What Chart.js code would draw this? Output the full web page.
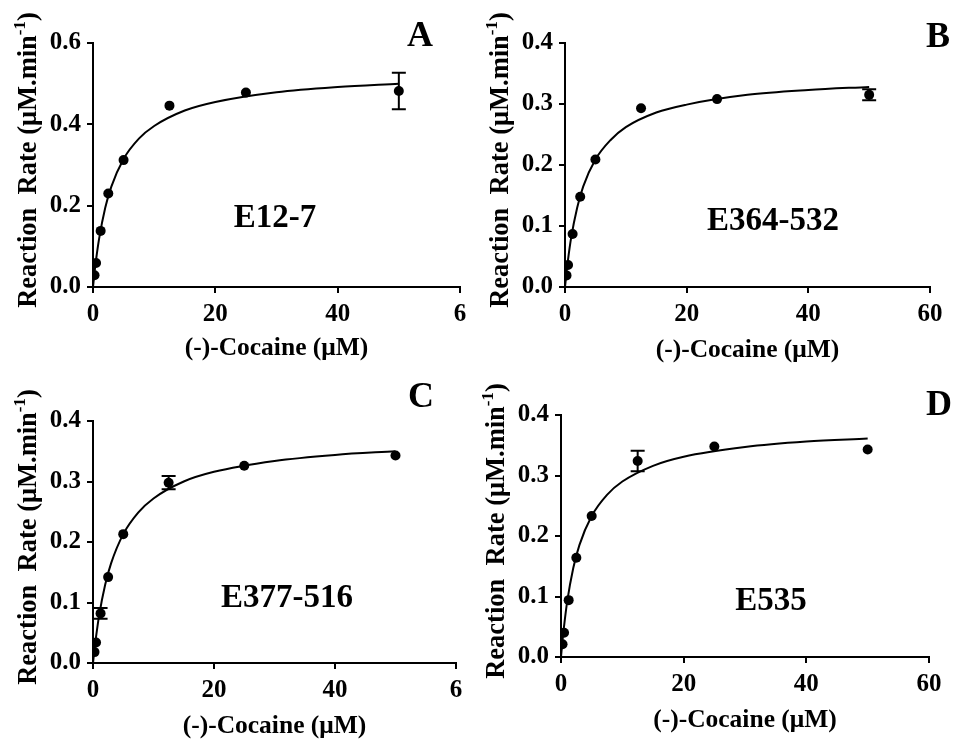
<!DOCTYPE html>
<html>
<head>
<meta charset="utf-8">
<script src="https://cdn.jsdelivr.net/npm/chart.js@4.4.1/dist/chart.umd.min.js"></script>
<style>
  html, body { margin: 0; padding: 0; background: #fff; }
  #fig { position: relative; width: 957px; height: 739px; overflow: hidden; }
  .panel { position: absolute; }
  .panel canvas { display: block; }
</style>
</head>
<body>
<div id="fig">
  <div class="panel" style="left:0;top:0"><canvas id="chartA" width="478" height="370"></canvas></div>
  <div class="panel" style="left:478px;top:0"><canvas id="chartB" width="479" height="370"></canvas></div>
  <div class="panel" style="left:0;top:370px"><canvas id="chartC" width="478" height="369"></canvas></div>
  <div class="panel" style="left:478px;top:370px"><canvas id="chartD" width="479" height="369"></canvas></div>
</div>
<script>
// (-)-cocaine concentrations, uM
var cocaine = [0.25, 0.5, 1.25, 2.5, 5, 12.5, 25, 50];

// measured rates (uM/min) and error bars
var rateA = [0.029, 0.059, 0.138, 0.230, 0.312, 0.446, 0.478, 0.482];
var errA  = [0, 0, 0, 0, 0, 0, 0, 0.045];
var rateB = [0.019, 0.036, 0.087, 0.148, 0.209, 0.293, 0.308, 0.315];
var errB  = [0, 0, 0, 0, 0, 0, 0, 0.009];
var rateC = [0.018, 0.034, 0.082, 0.142, 0.213, 0.298, 0.326, 0.343];
var errC  = [0, 0, 0.009, 0, 0, 0.011, 0, 0];
var rateD = [0.021, 0.040, 0.094, 0.164, 0.233, 0.324, 0.348, 0.343];
var errD  = [0, 0, 0, 0, 0, 0.017, 0, 0];

// fitted curves
var curveX = [0, 0.25, 0.5, 1, 2, 3, 5, 7.5, 10, 15, 20, 30, 40, 50];
var curveA = [0, 0.036, 0.067, 0.119, 0.195, 0.247, 0.315, 0.365, 0.396, 0.434, 0.455, 0.479, 0.492, 0.500];
var curveB = [0, 0.024, 0.045, 0.080, 0.130, 0.165, 0.209, 0.241, 0.262, 0.286, 0.299, 0.315, 0.323, 0.328];
var curveC = [0, 0.023, 0.043, 0.078, 0.129, 0.165, 0.213, 0.249, 0.272, 0.300, 0.316, 0.334, 0.344, 0.350];
var curveD = [0, 0.028, 0.051, 0.091, 0.147, 0.185, 0.233, 0.268, 0.290, 0.316, 0.331, 0.347, 0.356, 0.361];

// axes and labels
var yMaxes = [0.6, 0.4, 0.4, 0.4];
var ySteps = [0.2, 0.1, 0.1, 0.1];
var xTicksAC = ['0', '20', '40', '6'];
var xTicksBD = ['0', '20', '40', '60'];
var enzymes = ['E12-7', 'E364-532', 'E377-516', 'E535'];
var letters = ['A', 'B', 'C', 'D'];
var xTitle = '(-)-Cocaine (\u03bcM)';
var yTitle = 'Reaction  Rate (\u03bcM.min';
var yTitleSup = '-1';

var FAMILY = "'Liberation Serif', 'Times New Roman', serif";

/**
 * Error bars, y title, enzyme name and panel letter.
 */
var panelDecor = {
    id: 'panelDecor',
    afterDatasetsDraw: function (chart, args, opts) {
        var ctx = chart.ctx;
        var xs = chart.scales.x;
        var ys = chart.scales.y;
        var area = chart.chartArea;

        ctx.save();
        ctx.strokeStyle = '#000';
        ctx.lineWidth = 2;
        opts.errors.forEach(function (e, i) {
            if (!e) {
                return;
            }
            var px = xs.getPixelForValue(opts.xs[i]);
            var top = ys.getPixelForValue(opts.ys[i] + e);
            var bot = ys.getPixelForValue(opts.ys[i] - e);
            ctx.beginPath();
            ctx.moveTo(px, top);
            ctx.lineTo(px, bot);
            ctx.moveTo(px - 7, top);
            ctx.lineTo(px + 7, top);
            ctx.moveTo(px - 7, bot);
            ctx.lineTo(px + 7, bot);
            ctx.stroke();
        });

        ctx.fillStyle = '#000';
        ctx.textAlign = 'center';
        ctx.textBaseline = 'alphabetic';

        ctx.font = 'bold 33px ' + FAMILY;
        ctx.fillText(opts.enzyme, opts.label.x, opts.label.y);

        ctx.font = 'bold 36px ' + FAMILY;
        ctx.fillText(opts.letter, opts.letterPos.x, opts.letterPos.y);

        // rotated y title with superscript
        ctx.translate(area.left - 57, (area.top + area.bottom) / 2 - 5);
        ctx.rotate(-Math.PI / 2);
        ctx.textAlign = 'left';
        var mainFont = 'bold 26.5px ' + FAMILY;
        var supFont = 'bold 17px ' + FAMILY;
        ctx.font = mainFont;
        var w1 = ctx.measureText(yTitle).width;
        var w3 = ctx.measureText(')').width;
        ctx.font = supFont;
        var w2 = ctx.measureText(yTitleSup).width;
        var x0 = -(w1 + w2 + w3) / 2;
        ctx.font = mainFont;
        ctx.fillText(yTitle, x0, 0);
        ctx.font = supFont;
        ctx.fillText(yTitleSup, x0 + w1, -11);
        ctx.font = mainFont;
        ctx.fillText(')', x0 + w1 + w2, 0);
        ctx.restore();
    }
};

function makePanel(canvasId, idx, rates, errors, curve, xTicks, L) {
    var canvas = document.getElementById(canvasId);
    var W = canvas.width;
    var H = canvas.height;
    var tickFont = {family: FAMILY, size: 25, weight: 'bold'};

    var config = {
        type: 'scatter',
        data: {
            datasets: [
                {
                    data: curveX.map(function (x, i) {
                        return {x: x, y: curve[i]};
                    }),
                    showLine: true,
                    pointRadius: 0,
                    borderColor: '#000',
                    borderWidth: 2,
                    cubicInterpolationMode: 'monotone',
                    order: 2
                },
                {
                    data: cocaine.map(function (x, i) {
                        return {x: x, y: rates[i]};
                    }),
                    showLine: false,
                    pointRadius: 5,
                    pointBackgroundColor: '#000',
                    pointBorderColor: '#000',
                    pointBorderWidth: 0,
                    order: 1
                }
            ]
        },
        options: {
            responsive: false,
            animation: false,
            layout: {
                padding: {left: 0, top: L.top, right: W - L.right, bottom: 0}
            },
            plugins: {
                legend: {display: false},
                tooltip: {enabled: false},
                panelDecor: {
                    xs: cocaine,
                    ys: rates,
                    errors: errors,
                    enzyme: enzymes[idx],
                    letter: letters[idx],
                    label: L.label,
                    letterPos: L.letter
                }
            },
            scales: {
                x: {
                    type: 'linear',
                    min: 0,
                    max: 60,
                    afterFit: function (scale) {
                        scale.height = H - L.bottom;
                    },
                    ticks: {
                        stepSize: 20,
                        color: '#000',
                        font: tickFont,
                        padding: 7,
                        maxRotation: 0,
                        autoSkip: false,
                        callback: function (v, i) {
                            return xTicks[i];
                        }
                    },
                    grid: {
                        display: true,
                        drawOnChartArea: false,
                        drawTicks: true,
                        tickLength: 6,
                        color: '#000',
                        lineWidth: 2
                    },
                    border: {display: true, color: '#000', width: 2},
                    title: {
                        display: true,
                        text: xTitle,
                        color: '#000',
                        font: {family: FAMILY, size: 25.5, weight: 'bold', lineHeight: 1},
                        padding: {top: 0, bottom: L.xTitlePad}
                    }
                },
                y: {
                    min: 0,
                    max: yMaxes[idx],
                    afterFit: function (scale) {
                        scale.width = L.left;
                    },
                    ticks: {
                        stepSize: ySteps[idx],
                        color: '#000',
                        font: tickFont,
                        padding: 6,
                        callback: function (v) {
                            return v.toFixed(1);
                        }
                    },
                    grid: {
                        display: true,
                        drawOnChartArea: false,
                        drawTicks: true,
                        tickLength: 6,
                        color: '#000',
                        lineWidth: 2
                    },
                    border: {display: true, color: '#000', width: 2}
                }
            }
        },
        plugins: [panelDecor]
    };
    return new Chart(canvas, config);
}

makePanel('chartA', 0, rateA, errA, curveA, xTicksAC,
    {left: 93, right: 460, top: 43, bottom: 287, xTitlePad: 9,
        label: {x: 275, y: 227}, letter: {x: 420, y: 46}});
makePanel('chartB', 1, rateB, errB, curveB, xTicksBD,
    {left: 87, right: 452, top: 43, bottom: 287, xTitlePad: 7,
        label: {x: 295, y: 230}, letter: {x: 460, y: 47}});
makePanel('chartC', 2, rateC, errC, curveC, xTicksAC,
    {left: 93, right: 456, top: 51, bottom: 293, xTitlePad: 0,
        label: {x: 287, y: 237}, letter: {x: 421, y: 37}});
makePanel('chartD', 3, rateD, errD, curveD, xTicksBD,
    {left: 83, right: 451, top: 45, bottom: 287, xTitlePad: 6,
        label: {x: 293, y: 240}, letter: {x: 461, y: 45}});
</script>
</body>
</html>
